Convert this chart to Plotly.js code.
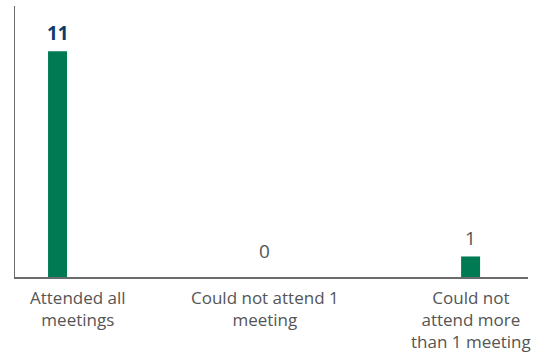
<!DOCTYPE html>
<html>
<head>
<meta charset="utf-8">
<script src="https://cdn.plot.ly/plotly-3.0.1.min.js"></script>
<style>html,body{margin:0;padding:0;background:#fff;}#chart{width:543px;height:355px;}</style>
</head>
<body>
<div id="chart"></div>
<script>
var categories = ["Attended all<br>meetings", "Could not attend 1<br>meeting", "Could not<br>attend more<br>than 1 meeting"];
var values = [11, 0, 1];

var labelShift = [20, 1, 0];
var valueColors = ["#0d3a6b", "#555555", "#555555"];
var valueWeights = ["bold", "normal", "normal"];
var valueShift = [3, 11, 3];

var annotations = [];
for (var i = 0; i < categories.length; i++) {
  annotations.push({
    x: i, y: 0, xref: "x", yref: "y", text: categories[i], showarrow: false,
    yanchor: "top", yshift: -7, xshift: labelShift[i], align: "center",
    font: {family: "Open Sans, sans-serif", size: 17, color: "#555555"}
  });
  annotations.push({
    x: i, y: values[i], xref: "x", yref: "y", text: String(values[i]), showarrow: false,
    yanchor: "bottom", yshift: valueShift[i],
    font: {family: "Open Sans, sans-serif", size: 19, color: valueColors[i], weight: valueWeights[i]}
  });
}

var trace = {
  type: "bar",
  x: [0, 1, 2],
  y: values,
  width: 0.092,
  marker: {color: "#007a53"},
  hoverinfo: "skip"
};

var layout = {
  width: 543, height: 355,
  margin: {l: 15, r: 15, t: 6, b: 78},
  paper_bgcolor: "#ffffff", plot_bgcolor: "#ffffff",
  showlegend: false,
  xaxis: {range: [-0.206, 2.278], showticklabels: false, ticks: "", showgrid: false, zeroline: false,
          showline: true, linecolor: "#6b6b6b", linewidth: 1.5, fixedrange: true},
  yaxis: {range: [0, 13.2], showticklabels: false, ticks: "", showgrid: false, zeroline: false,
          showline: true, linecolor: "#6b6b6b", linewidth: 1.5, fixedrange: true},
  annotations: annotations
};

Plotly.newPlot("chart", [trace], layout, {displayModeBar: false, staticPlot: true});
</script>
</body>
</html>
